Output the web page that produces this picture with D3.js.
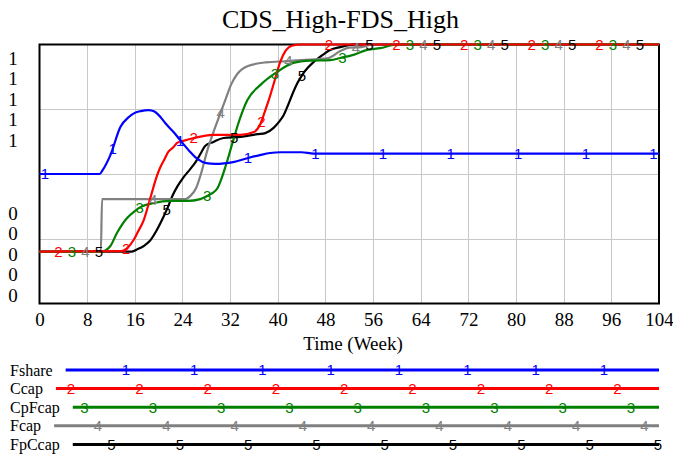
<!DOCTYPE html>
<html>
<head>
<meta charset="utf-8">
<script src="https://cdn.jsdelivr.net/npm/d3@7"></script>
<style>
  html, body { margin: 0; padding: 0; background: #fff; }
  svg { display: block; }
</style>
</head>
<body>
<svg id="chart" width="673" height="458"></svg>
<script>
// ---------------- DATA ----------------
const chartTitle = "CDS_High-FDS_High";
const xTitle = "Time (Week)";
const xTicks = [0, 8, 16, 24, 32, 40, 48, 56, 64, 72, 80, 88, 96, 104];
const seriesNames = ["Fshare", "Ccap", "CpFcap", "Fcap", "FpCcap"];
const seriesMarks = ["1", "2", "3", "4", "5"];
const seriesColors = ["#0000ff", "#ff0000", "#008000", "#808080", "#000000"];
const seriesMaxLabels = ["1", "1", "1", "1", "1"];
const seriesMinLabels = ["0", "0", "0", "0", "0"];

const fshareWeeks = [0, 10.1, 10.6, 11.9, 13.6, 15, 16, 17, 18.3, 19.3, 20.3, 21.1, 22.5, 24, 25.3, 26.5, 28, 29.5, 31, 32.5, 35, 37, 38.7, 40.5, 44, 46, 104];
const fshareValues = [0.5, 0.5, 0.515, 0.573, 0.682, 0.72, 0.736, 0.743, 0.747, 0.741, 0.72, 0.697, 0.662, 0.62, 0.585, 0.558, 0.542, 0.539, 0.541, 0.546, 0.562, 0.573, 0.581, 0.584, 0.584, 0.579, 0.579];

const ccapWeeks = [0, 13.6, 14.5, 15.8, 16.5, 17.5, 18.6, 19.7, 20.3, 21, 21.6, 22.5, 23.1, 24, 25.9, 29.2, 33.7, 36, 37, 37.8, 38.5, 39.5, 40.4, 41.3, 42.5, 44, 104];
const ccapValues = [0.2, 0.202, 0.21, 0.245, 0.276, 0.322, 0.407, 0.492, 0.527, 0.558, 0.585, 0.604, 0.62, 0.627, 0.639, 0.651, 0.651, 0.662, 0.689, 0.739, 0.786, 0.863, 0.932, 0.975, 0.996, 1, 1];

const cpfcapWeeks = [0, 10.5, 11.2, 11.9, 13, 14.7, 16, 17, 19.2, 22, 24.8, 27, 27.8, 28.8, 29.9, 30.6, 31.2, 32.4, 33.4, 34.9, 37.1, 39.9, 42.6, 45.5, 48.8, 50.5, 52.7, 55, 57.2, 59.4, 60.5, 104];
const cpfcapValues = [0.2, 0.2, 0.207, 0.222, 0.272, 0.33, 0.357, 0.373, 0.388, 0.396, 0.396, 0.403, 0.411, 0.423, 0.446, 0.485, 0.527, 0.62, 0.697, 0.786, 0.844, 0.894, 0.929, 0.938, 0.94, 0.948, 0.96, 0.979, 0.986, 0.998, 1, 1];

const fcapWeeks = [0, 10.3, 10.5, 24.5, 25.3, 26.3, 27.2, 28.2, 29.2, 30.2, 31.2, 32.2, 33.2, 35, 38, 41.8, 44, 48.5, 50.5, 52, 54, 56, 104];
const fcapValues = [0.2, 0.2, 0.403, 0.403, 0.415, 0.446, 0.508, 0.593, 0.662, 0.724, 0.786, 0.847, 0.886, 0.917, 0.931, 0.936, 0.94, 0.948, 0.975, 0.988, 0.99, 1, 1];

const fpccapWeeks = [0, 15.5, 16.5, 17.5, 18.5, 19.7, 20.8, 21.5, 22.3, 23.2, 24.2, 25.3, 26.2, 27.2, 27.8, 29.2, 30.9, 33.7, 36.6, 37.9, 39.3, 40.2, 41, 41.6, 42.4, 43.3, 44.2, 45, 46, 47.1, 48.8, 50.5, 52.2, 53, 104];
const fpccapValues = [0.2, 0.2, 0.21, 0.222, 0.241, 0.284, 0.334, 0.369, 0.415, 0.454, 0.488, 0.519, 0.546, 0.585, 0.608, 0.624, 0.639, 0.643, 0.654, 0.658, 0.678, 0.701, 0.728, 0.759, 0.805, 0.851, 0.886, 0.909, 0.932, 0.952, 0.979, 0.99, 0.998, 1, 1];

// ---------------- BUILD ----------------
const seriesWeeks = [fshareWeeks, ccapWeeks, cpfcapWeeks, fcapWeeks, fpccapWeeks];
const seriesValues = [fshareValues, ccapValues, cpfcapValues, fcapValues, fpccapValues];
const series = seriesNames.map((name, i) => ({
  name, mark: seriesMarks[i], color: seriesColors[i],
  pts: seriesWeeks[i].map((w, j) => ({ w, v: seriesValues[i][j] }))
}));

const serif = "'Liberation Serif', 'Times New Roman', Times, serif";
const sans = "'Liberation Sans', Arial, sans-serif";

const plot = { left: 39.5, right: 659, top: 44.5, bottom: 303.5 };
const x = d3.scaleLinear().domain([0, 104]).range([plot.left, plot.right]);
const y = d3.scaleLinear().domain([0, 1]).range([plot.bottom, plot.top]);

const svg = d3.select("#chart");

// title
svg.append("text").attr("x", 340.5).attr("y", 28)
  .attr("text-anchor", "middle").attr("font-family", serif).attr("font-size", 26)
  .text(chartTitle);

// grid
const grid = svg.append("g").attr("stroke", "#c8c8c8").attr("stroke-width", 1);
grid.selectAll("line.v").data(xTicks.slice(1, -1)).join("line")
  .attr("x1", d => Math.round(x(d)) + 0.5).attr("x2", d => Math.round(x(d)) + 0.5)
  .attr("y1", plot.top).attr("y2", plot.bottom);
grid.selectAll("line.h").data([0.25, 0.5, 0.75]).join("line")
  .attr("x1", plot.left).attr("x2", plot.right)
  .attr("y1", d => Math.round(y(d)) + 0.5).attr("y2", d => Math.round(y(d)) + 0.5);

// x axis labels
const xAxis = d3.axisBottom(x).tickValues(xTicks).tickSize(0).tickPadding(0).tickFormat(d3.format("d"));
const xg = svg.append("g").attr("transform", `translate(0,${plot.bottom})`).call(xAxis);
xg.select(".domain").remove();
xg.selectAll("text").attr("font-family", serif).attr("font-size", 19)
  .attr("fill", "#000").attr("dy", null).attr("y", 22.5);

svg.append("text").attr("x", 353).attr("y", 350)
  .attr("text-anchor", "middle").attr("font-family", serif).attr("font-size", 19)
  .text(xTitle);

// y labels (per series max / min)
svg.selectAll("text.ymax").data(seriesMaxLabels).join("text")
  .attr("x", 13).attr("y", (d, i) => 64.5 + 20.5 * i)
  .attr("text-anchor", "middle").attr("font-family", serif).attr("font-size", 19).text(d => d);
svg.selectAll("text.ymin").data(seriesMinLabels).join("text")
  .attr("x", 13).attr("y", (d, i) => 219.5 + 20.5 * i)
  .attr("text-anchor", "middle").attr("font-family", serif).attr("font-size", 19).text(d => d);

// frame (lines are drawn over it, as in the reference)
svg.append("rect").attr("x", plot.left).attr("y", plot.top)
  .attr("width", plot.right - plot.left).attr("height", plot.bottom - plot.top)
  .attr("fill", "none").attr("stroke", "#000").attr("stroke-width", 2);

// lines
const line = d3.line().x(d => x(d.w)).y(d => y(d.v)).curve(d3.curveMonotoneX);
const interp = (pts, w) => {
  const ws = pts.map(p => p.w);
  let j = d3.bisectRight(ws, w);
  if (j <= 0) return pts[0].v;
  if (j >= pts.length) return pts[pts.length - 1].v;
  const a = pts[j - 1], b = pts[j];
  return a.v + (b.v - a.v) * (w - a.w) / (b.w - a.w);
};

const order = [4, 3, 2, 1, 0];
const lineG = svg.append("g");
order.forEach(k => {
  const s = series[k];
  lineG.append("path").datum(s.pts)
    .attr("fill", "none").attr("stroke", s.color).attr("stroke-width", 2.2)
    .attr("stroke-linejoin", "round").attr("d", line);
});
order.forEach(k => {
  const s = series[k];
  const marks = [];
  for (let px = 45 + 13.5 * k; px <= plot.right; px += 67.6) marks.push(x.invert(px));
  lineG.selectAll(null).data(marks).join("text")
    .attr("x", d => x(d)).attr("y", d => y(interp(s.pts, d)))
    .attr("dy", "0.36em").attr("text-anchor", "middle")
    .attr("font-family", sans).attr("font-size", 15).attr("fill", s.color)
    .text(s.mark);
});

// legend
const legend = svg.append("g");
series.forEach((s, k) => {
  const ry = 370 + 18.6 * k;
  const t = legend.append("text").attr("x", 10).attr("y", ry + 5.5)
    .attr("font-family", serif).attr("font-size", 16).text(s.name);
  const start = 10 + t.node().getComputedTextLength() + 13;
  legend.append("line").attr("x1", start).attr("x2", plot.right)
    .attr("y1", ry).attr("y2", ry).attr("stroke", s.color).attr("stroke-width", 3);
  const pos = [];
  for (let px = 57.5 + 13.5 * k; px <= plot.right + 1; px += 68.3) if (px >= start) pos.push(px);
  legend.selectAll(null).data(pos).join("text")
    .attr("x", d => d).attr("y", ry).attr("dy", "0.36em").attr("text-anchor", "middle")
    .attr("font-family", sans).attr("font-size", 15).attr("fill", s.color).text(s.mark);
});
</script>
</body>
</html>
